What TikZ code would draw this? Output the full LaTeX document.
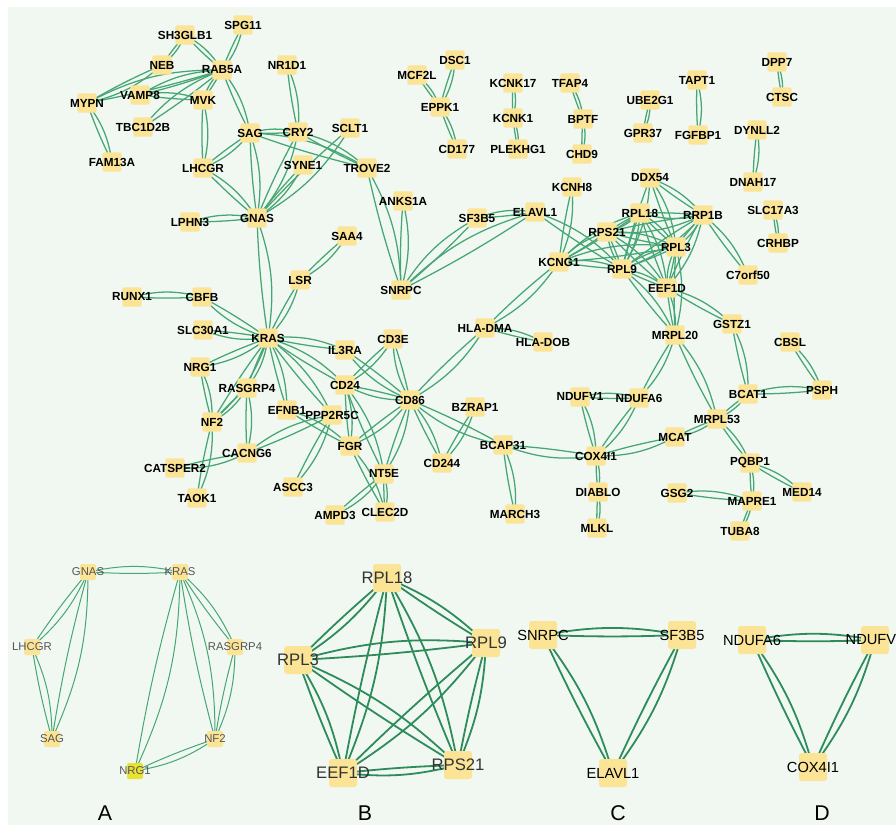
\documentclass[tikz,border=0pt]{standalone}
\usepackage{fontspec}
\setmainfont{Liberation Sans}
\pgfdeclarelayer{bgl}
\pgfdeclarelayer{edges}
\pgfsetlayers{bgl,edges,main}
\definecolor{bg}{RGB}{241,248,242}
\definecolor{ecol}{RGB}{70,166,116}
\definecolor{ecolb}{RGB}{46,140,90}
\definecolor{nfill}{RGB}{251,228,150}
\definecolor{nfillg}{RGB}{232,226,50}
\definecolor{lgray}{RGB}{85,85,85}
\tikzset{
 sq/.style={fill=nfill, minimum size=14.5pt, inner sep=0pt, rounded corners=1.5pt},
 lbl/.style={font=\bfseries\fontsize{8.8}{9}\selectfont, text=black, inner sep=0pt},
 sqa/.style={fill=nfill, minimum size=12pt, inner sep=0pt, rounded corners=1.5pt},
 lbla/.style={font=\fontsize{8.5}{9}\selectfont, text=lgray, inner sep=0pt},
 sqb/.style={fill=nfill, minimum size=21pt, inner sep=0pt, rounded corners=2pt},
 lblb/.style={font=\fontsize{12.5}{14}\selectfont, text=black!80, inner sep=0pt},
 lblc/.style={font=\fontsize{11}{13}\selectfont, text=black, inner sep=0pt},
 edge/.style={draw=ecol, line width=0.95pt},
 edgea/.style={draw=ecol, line width=0.75pt},
 edgeb/.style={draw=ecolb, line width=1.35pt},
 panel/.style={font=\fontsize{16}{18}\selectfont, text=black},
}
\newcommand\gn[4]{\node[sq, label={[lbl]center:#4}] (#1) at (#2,#3) {};}
\begin{document}
\begin{tikzpicture}[x=0.75pt,y=-0.75pt]
\useasboundingbox (0,0) rectangle (896,825);
\begin{pgfonlayer}{bgl}
\fill[white] (0,0) rectangle (896,825);
\fill[bg] (8,7) rectangle (896,825);
\end{pgfonlayer}
% ---------- top network nodes ----------
\gn{sh3glb1}{185}{35}{SH3GLB1}
\gn{spg11}{243}{25}{SPG11}
\gn{neb}{162}{65}{NEB}
\gn{rab5a}{222}{70}{RAB5A}
\gn{nr1d1}{287}{65}{NR1D1}
\gn{mypn}{87}{103}{MYPN}
\gn{vamp8}{140}{95}{VAMP8}
\gn{mvk}{203}{100}{MVK}
\gn{tbc1d2b}{143}{127}{TBC1D2B}
\gn{sag}{250}{133}{SAG}
\gn{cry2}{298}{132}{CRY2}
\gn{sclt1}{350}{128}{SCLT1}
\gn{fam13a}{112}{162}{FAM13A}
\gn{lhcgr}{203}{168}{LHCGR}
\gn{syne1}{303}{165}{SYNE1}
\gn{trove2}{367}{168}{TROVE2}
\gn{lphn3}{190}{222}{LPHN3}
\gn{gnas}{257}{218}{GNAS}
\gn{saa4}{347}{236}{SAA4}
\gn{dsc1}{455}{60}{DSC1}
\gn{mcf2l}{417}{75}{MCF2L}
\gn{eppk1}{440}{107}{EPPK1}
\gn{cd177}{457}{149}{CD177}
\gn{kcnk17}{513}{83}{KCNK17}
\gn{kcnk1}{513}{118}{KCNK1}
\gn{plekhg1}{518}{149}{PLEKHG1}
\gn{tfap4}{570}{83}{TFAP4}
\gn{bptf}{583}{119}{BPTF}
\gn{chd9}{582}{154}{CHD9}
\gn{kcnh8}{572}{187}{KCNH8}
\gn{anks1a}{403}{201}{ANKS1A}
\gn{sf3b5}{477}{218}{SF3B5}
\gn{elavl1}{535}{212}{ELAVL1}
\gn{rps21}{607}{232}{RPS21}
\gn{kcng1}{559}{262}{KCNG1}
\gn{dpp7}{777}{62}{DPP7}
\gn{ctsc}{782}{97}{CTSC}
\gn{tapt1}{697}{80}{TAPT1}
\gn{ube2g1}{650}{100}{UBE2G1}
\gn{gpr37}{643}{133}{GPR37}
\gn{fgfbp1}{698}{135}{FGFBP1}
\gn{dynll2}{757}{130}{DYNLL2}
\gn{dnah17}{753}{182}{DNAH17}
\gn{slc17a3}{773}{210}{SLC17A3}
\gn{crhbp}{778}{243}{CRHBP}
\gn{ddx54}{650}{178}{DDX54}
\gn{rpl18}{640}{213}{RPL18}
\gn{rrp1b}{703}{215}{RRP1B}
\gn{rpl3}{676}{247}{RPL3}
\gn{rpl9}{622}{269}{RPL9}
\gn{eef1d}{667}{288}{EEF1D}
\gn{c7orf50}{748}{275}{C7orf50}
\gn{runx1}{132}{297}{RUNX1}
\gn{cbfb}{202}{297}{CBFB}
\gn{lsr}{300}{280}{LSR}
\gn{snrpc}{401}{290}{SNRPC}
\gn{slc30a1}{203}{330}{SLC30A1}
\gn{kras}{268}{338}{KRAS}
\gn{nrg1}{200}{367}{NRG1}
\gn{il3ra}{345}{350}{IL3RA}
\gn{cd3e}{393}{339}{CD3E}
\gn{rasgrp4}{247}{388}{RASGRP4}
\gn{cd24}{345}{385}{CD24}
\gn{efnb1}{287}{410}{EFNB1}
\gn{ppp2r5c}{332}{415}{PPP2R5C}
\gn{nf2}{212}{422}{NF2}
\gn{fgr}{350}{446}{FGR}
\gn{cacng6}{247}{453}{CACNG6}
\gn{catsper2}{175}{468}{CATSPER2}
\gn{nt5e}{384}{474}{NT5E}
\gn{ascc3}{293}{487}{ASCC3}
\gn{taok1}{197}{498}{TAOK1}
\gn{ampd3}{335}{515}{AMPD3}
\gn{clec2d}{385}{512}{CLEC2D}
\gn{hladma}{485}{328}{HLA-DMA}
\gn{hladob}{543}{342}{HLA-DOB}
\gn{mrpl20}{675}{335}{MRPL20}
\gn{gstz1}{732}{324}{GSTZ1}
\gn{cbsl}{790}{342}{CBSL}
\gn{psph}{822}{390}{PSPH}
\gn{bcat1}{748}{394}{BCAT1}
\gn{cd86}{410}{400}{CD86}
\gn{bzrap1}{475}{407}{BZRAP1}
\gn{ndufv1}{580}{397}{NDUFV1}
\gn{ndufa6}{639}{398}{NDUFA6}
\gn{mrpl53}{717}{419}{MRPL53}
\gn{mcat}{675}{437}{MCAT}
\gn{bcap31}{503}{445}{BCAP31}
\gn{cox4i1}{596}{456}{COX4I1}
\gn{cd244}{442}{463}{CD244}
\gn{pqbp1}{750}{463}{PQBP1}
\gn{diablo}{598}{492}{DIABLO}
\gn{gsg2}{677}{493}{GSG2}
\gn{med14}{802}{492}{MED14}
\gn{mapre1}{752}{501}{MAPRE1}
\gn{march3}{515}{514}{MARCH3}
\gn{mlkl}{597}{528}{MLKL}
\gn{tuba8}{740}{531}{TUBA8}
% ---------- panel A ----------
\node[sqa, label={[lbla]center:GNAS}] (ag) at (88,572) {};
\node[sqa, label={[lbla]center:KRAS}] (ak) at (180,572) {};
\node[sqa, label={[lbla]center:LHCGR}] (al) at (32,647) {};
\node[sqa, label={[lbla]center:RASGRP4}] (ar) at (235,647) {};
\node[sqa, label={[lbla]center:SAG}] (as) at (52,739) {};
\node[sqa, label={[lbla]center:NF2}] (an) at (215,739) {};
\node[sqa, fill=nfillg, label={[lbla]center:NRG1}] (ang) at (135,771) {};
% ---------- panel B ----------
\node[sqb, label={[lblb]center:RPL18}] (b18) at (387,578) {};
\node[sqb, label={[lblb]center:RPL3}] (b3) at (298,660) {};
\node[sqb, label={[lblb]center:RPL9}] (b9) at (486,643) {};
\node[sqb, label={[lblb]center:RPS21}] (b21) at (458,765) {};
\node[sqb, label={[lblb]center:EEF1D}] (b1d) at (343,773) {};
% ---------- panel C ----------
\node[sqb, label={[lblc]center:SNRPC}] (cs) at (543,635) {};
\node[sqb, label={[lblc]center:SF3B5}] (cf) at (682,635) {};
\node[sqb, label={[lblc]center:ELAVL1}] (ce) at (613,773) {};
% ---------- panel D ----------
\node[sqb, label={[lblc]center:NDUFA6}] (da6) at (752,640) {};
\node[sqb, label={[lblc]center:NDUFV1}] (dv1) at (875,640) {};
\node[sqb, label={[lblc]center:COX4I1}] (dc) at (813,767) {};
% panel letters
\node[panel] (pa) at (105,813) {A};
\node[panel] (pb) at (365,813) {B};
\node[panel] (pc) at (618,813) {C};
\node[panel] (pd) at (822,813) {D};
% ---------- edges ----------
\begin{pgfonlayer}{edges}
\foreach \a/\b in {sh3glb1/neb, sh3glb1/rab5a, spg11/rab5a, neb/mypn, mypn/rab5a, vamp8/rab5a, vamp8/mvk, tbc1d2b/rab5a, mypn/fam13a, mvk/rab5a, mvk/lhcgr, rab5a/sag, sag/lhcgr, sag/gnas, sag/cry2, sag/trove2, lhcgr/gnas, nr1d1/cry2, cry2/gnas, cry2/trove2, sclt1/gnas, syne1/gnas, lphn3/gnas, gnas/kras, trove2/snrpc, saa4/lsr, lsr/kras, anks1a/snrpc, snrpc/sf3b5, snrpc/elavl1, sf3b5/elavl1, elavl1/rpl9, kcnh8/kcng1, kcng1/rps21, kcng1/rpl18, kcng1/rpl9, kcng1/rpl3, kcng1/hladma, hladma/hladob, hladma/cd86, rpl18/rpl9, rpl18/rps21, rpl18/eef1d, rpl18/rpl3, rpl9/rps21, rpl9/eef1d, rpl9/rpl3, rps21/eef1d, rps21/rpl3, eef1d/rpl3, ddx54/rrp1b, ddx54/rpl3, ddx54/rpl9, rrp1b/rpl18, rrp1b/rpl3, rrp1b/rpl9, rrp1b/rps21, rrp1b/eef1d, rrp1b/c7orf50, eef1d/mrpl20, rpl9/mrpl20, rpl3/mrpl20, eef1d/gstz1, mrpl20/ndufa6, mrpl20/mrpl53, gstz1/bcat1, bcat1/psph, cbsl/psph, bcat1/mrpl53, mrpl53/mcat, mcat/cox4i1, mrpl53/pqbp1, pqbp1/med14, pqbp1/mapre1, gsg2/mapre1, mapre1/tuba8, ndufv1/ndufa6, ndufv1/cox4i1, ndufa6/cox4i1, cox4i1/diablo, diablo/mlkl, cox4i1/bcap31, bcap31/cd86, bcap31/march3, cd86/cd244, bzrap1/cd244, cd86/cd3e, cd86/il3ra, cd86/cd24, cd86/fgr, cd86/nt5e, kras/cbfb, kras/slc30a1, kras/nrg1, kras/rasgrp4, kras/nf2, kras/efnb1, kras/ppp2r5c, kras/il3ra, kras/cd24, runx1/cbfb, nrg1/nf2, rasgrp4/nf2, rasgrp4/cacng6, nf2/taok1, cacng6/catsper2, cacng6/ppp2r5c, efnb1/fgr, ppp2r5c/ascc3, cd24/fgr, cd24/nt5e, cd3e/cd24, fgr/clec2d, nt5e/ampd3, nt5e/clec2d, mcf2l/eppk1, dsc1/eppk1, eppk1/cd177, kcnk17/kcnk1, kcnk1/plekhg1, tfap4/bptf, bptf/chd9, ube2g1/gpr37, tapt1/fgfbp1, dpp7/ctsc, dynll2/dnah17, slc17a3/crhbp}
{\draw[edge] (\a.center) to[bend right=3] (\b.center);
 \draw[edge] (\a.center) to[bend left=14] (\b.center);}
\foreach \a/\b in {ag/ak, ag/al, ag/as, al/as, ak/ar, ak/an, ak/ang, ar/an, an/ang}
{\draw[edgea] (\a.center) to[bend right=3] (\b.center);
 \draw[edgea] (\a.center) to[bend left=12] (\b.center);}
\foreach \a/\b in {b18/b3, b18/b9, b18/b21, b18/b1d, b3/b9, b3/b21, b3/b1d, b9/b21, b9/b1d, b21/b1d, cs/cf, cs/ce, cf/ce, da6/dv1, da6/dc, dv1/dc}
{\draw[edgeb] (\a.center) to[bend right=2] (\b.center);
 \draw[edgeb] (\a.center) to[bend left=10] (\b.center);}
\end{pgfonlayer}
\end{tikzpicture}
\end{document}
